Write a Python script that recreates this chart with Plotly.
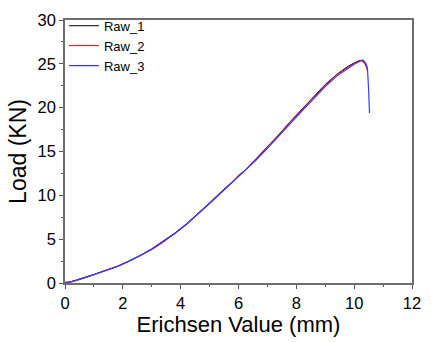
import plotly.graph_objects as go

# Raw_1 (black)
x1 = [0, 0.2, 0.4, 0.7, 1.0, 1.4, 1.8, 2.2, 2.6, 3.0, 3.4, 3.8, 4.2, 4.6, 5.0, 5.4,
      5.8, 6.2, 6.6, 7.0, 7.4, 7.8, 8.2, 8.6, 9.0, 9.4, 9.8, 10.0, 10.2, 10.3, 10.38, 10.44]
y1 = [0.05, 0.15, 0.35, 0.65, 0.98, 1.45, 1.9, 2.5, 3.15, 3.9, 4.75, 5.7, 6.75, 7.9, 9.15, 10.4,
      11.6, 12.8, 14.15, 15.5, 16.95, 18.45, 19.85, 21.25, 22.65, 23.8, 24.75, 25.1, 25.4, 25.35, 25.0, 24.5]

# Raw_2 (red)
x2 = [0, 0.2, 0.4, 0.7, 1.0, 1.4, 1.5, 1.8, 2.2, 2.6, 3.0, 3.4, 3.5, 3.8, 4.2, 4.6, 5.0, 5.4,
      5.8, 6.0, 6.2, 6.6, 7.0, 7.4, 7.8, 8.2, 8.6, 9.0, 9.4, 9.8, 10.0, 10.2, 10.3, 10.38, 10.44, 10.45]
y2 = [0.0, 0.12, 0.3, 0.6, 0.95, 1.42, 1.6, 1.88, 2.45, 3.1, 3.8, 4.65, 4.9, 5.6, 6.65, 7.85, 9.1, 10.35,
      11.55, 12.3, 12.75, 14.1, 15.45, 16.9, 18.4, 19.8, 21.2, 22.55, 23.75, 24.65, 25.05, 25.35, 25.3, 24.95, 24.6, 24.2]

# Raw_3 (blue)
x3 = [0, 0.2, 0.4, 0.7, 1.0, 1.4, 1.8, 2.2, 2.6, 3.0, 3.4, 3.8, 4.2, 4.6, 5.0, 5.4,
      5.8, 6.2, 6.6, 7.0, 7.4, 7.8, 8.2, 8.6, 9.0, 9.4, 9.8, 10.0, 10.2, 10.3, 10.4, 10.46, 10.5, 10.53]
y3 = [0.08, 0.1, 0.3, 0.6, 0.95, 1.4, 1.85, 2.45, 3.1, 3.85, 4.7, 5.65, 6.7, 7.85, 9.05, 10.3,
      11.5, 12.7, 14.0, 15.35, 16.8, 18.3, 19.65, 21.0, 22.4, 23.6, 24.55, 24.95, 25.3, 25.45, 25.1, 24.5, 22.0, 19.4]

x_ticks = [0, 2, 4, 6, 8, 10, 12]
y_ticks = [0, 5, 10, 15, 20, 25, 30]

FONT = "Liberation Sans, Arial, sans-serif"

fig = go.Figure()
fig.add_trace(go.Scatter(x=x1, y=y1, mode="lines", name="Raw_1",
                         line=dict(color="black", width=1)))
fig.add_trace(go.Scatter(x=x2, y=y2, mode="lines", name="Raw_2",
                         line=dict(color="#ff0000", width=1)))
fig.add_trace(go.Scatter(x=x3, y=y3, mode="lines", name="Raw_3",
                         line=dict(color="#3a3aff", width=1.2)))

axis_common = dict(
    showline=True, linecolor="#6e6e6e", linewidth=1.5, mirror=True,
    showgrid=False, zeroline=False,
    ticks="outside", ticklen=4, tickwidth=1, tickcolor="#555555",
    tickfont=dict(family=FONT, size=16.5, color="black"),
)

fig.update_layout(
    width=432, height=342,
    margin=dict(l=65, r=11, t=15, b=59),
    paper_bgcolor="white", plot_bgcolor="white",
    font=dict(family=FONT, color="black"),
    xaxis=dict(range=[0, 12], tickvals=x_ticks,
               minor=dict(dtick=1, ticks="outside", ticklen=2, tickcolor="#555555"),
               title=dict(text="Erichsen Value (mm)", font=dict(family=FONT, size=22), standoff=3),
               **axis_common),
    yaxis=dict(range=[0, 30], tickvals=y_ticks,
               minor=dict(dtick=2.5, ticks="outside", ticklen=2, tickcolor="#555555"),
               title=dict(text="Load (KN)", font=dict(family=FONT, size=23), standoff=5),
               **axis_common),
    legend=dict(x=-0.003, y=1.035, xanchor="left", yanchor="top",
                bgcolor="rgba(0,0,0,0)", font=dict(family=FONT, size=13),
                tracegroupgap=0, itemwidth=30),
    showlegend=True,
)

fig.write_html("out.html")
